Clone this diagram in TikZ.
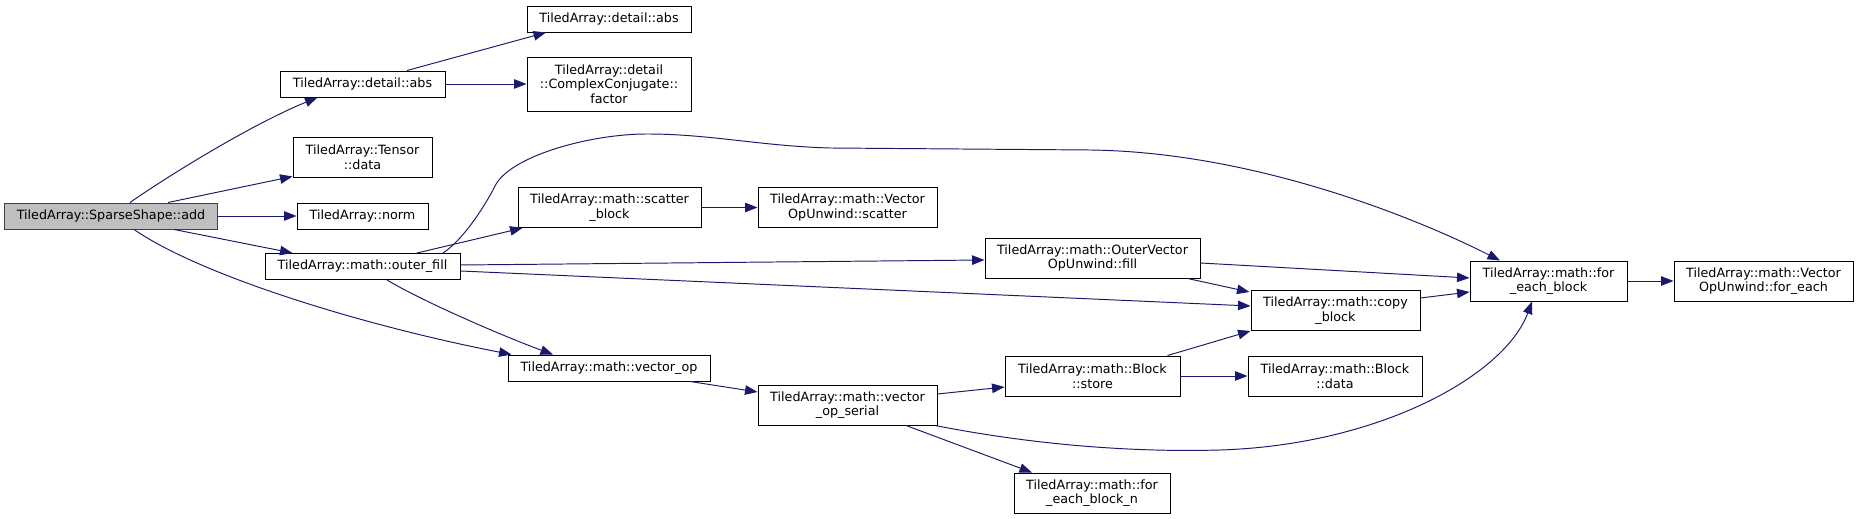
\documentclass[tikz,border=0pt]{standalone}
\usepackage{fontspec}
\setmainfont{DejaVu Sans}
\usetikzlibrary{arrows.meta, calc}
\definecolor{cEdge}{HTML}{191970}
\definecolor{cRoot}{HTML}{BFBFBF}
\definecolor{cFrame}{HTML}{404040}
\tikzset{
  fnbox/.style={
    draw=black, fill=white, line width=0.55pt,
    inner sep=0pt, align=center,
    font=\fontsize{7.25}{8.3}\selectfont,
  },
  rootbox/.style={fnbox, draw=cFrame, fill=cRoot},
  bw/.style={minimum width=#1*0.02cm},
  bh/.style={minimum height=#1*0.02cm},
  calls/.style={draw=cEdge, line width=0.55pt,
    -{Triangle[length=0.25cm, width=0.19cm]}},
}

\begin{document}
\begin{tikzpicture}[x=0.02cm, y=-0.02cm]
  \useasboundingbox (0,0) rectangle (1859,519);

  \node[rootbox, bw=213, bh=26] (add) at (111,216) {TiledArray::SparseShape::add};

  \node[fnbox, bw=165, bh=26] (abs1) at (362.5,84) {TiledArray::detail::abs};
  \node[fnbox, bw=139, bh=40] (tdata) at (362.5,157) {TiledArray::Tensor\\::data};
  \node[fnbox, bw=131, bh=26] (norm) at (362.5,216) {TiledArray::norm};
  \node[fnbox, bw=195, bh=26] (ofill) at (362.5,266.5) {TiledArray::math::outer\_fill};

  \node[fnbox, bw=164, bh=26] (abs2) at (609,19) {TiledArray::detail::abs};
  \node[fnbox, bw=164, bh=54] (factor) at (609,84) {TiledArray::detail\\::ComplexConjugate::\\factor};
  \node[fnbox, bw=183, bh=40] (scatb) at (609.5,207.5) {TiledArray::math::scatter\\\_block};
  \node[fnbox, bw=202, bh=26] (vop) at (609,368) {TiledArray::math::vector\_op};

  \node[fnbox, bw=179, bh=40] (vscat) at (847.5,207.5) {TiledArray::math::Vector\\OpUnwind::scatter};
  \node[fnbox, bw=179, bh=40] (vopser) at (847.5,405) {TiledArray::math::vector\\\_op\_serial};

  \node[fnbox, bw=215, bh=40] (oufill) at (1092.5,258) {TiledArray::math::OuterVector\\OpUnwind::fill};
  \node[fnbox, bw=175, bh=40] (store) at (1092.5,376) {TiledArray::math::Block\\::store};
  \node[fnbox, bw=156, bh=40] (febn) at (1092,493) {TiledArray::math::for\\\_each\_block\_n};

  \node[fnbox, bw=169, bh=40] (copy) at (1335.5,310.5) {TiledArray::math::copy\\\_block};
  \node[fnbox, bw=174, bh=40] (bdata) at (1335,376) {TiledArray::math::Block\\::data};

  \node[fnbox, bw=157, bh=40] (feb) at (1548.5,281) {TiledArray::math::for\\\_each\_block};
  \node[fnbox, bw=179, bh=40] (foreach) at (1763.5,281) {TiledArray::math::Vector\\OpUnwind::for\_each};

  % calls from add
  \draw[calls] ($(add.north)+(19,0)$) .. controls (165,178) and (250,125) .. ($(abs1.south)+(-45,0)$);
  \draw[calls] ($(add.north)+(57,0)$) -- ($(tdata.south west)+(0,-1)$);
  \draw[calls] (add.east) -- (norm.west);
  \draw[calls] ($(add.south)+(63,0)$) -- ($(ofill.north)+(-70,0)$);
  \draw[calls] ($(add.south)+(23,0)$) .. controls (200,275) and (360,325) .. ($(vop.north west)+(4,0)$);

  \draw[calls] ($(abs1.north)+(44.5,0)$) -- ($(abs2.south)+(-63,0)$);
  \draw[calls] (abs1.east) -- (factor.west);

  % calls from outer_fill
  \draw[calls] ($(ofill.north)+(80.5,0)$) .. controls (463,240) and (485,206) .. (495,186)
    .. controls (510,156) and (590,134) .. (647,134)
    .. controls (710,134) and (760,146) .. (830,148) -- (1090,150)
    .. controls (1250,152) and (1410,215) .. ($(feb.north)+(-48.5,0)$);
  \draw[calls] ($(ofill.north)+(54.5,0)$) -- ($(scatb.south west)+(5,0)$);
  \draw[calls] ($(ofill.east)+(0,-1.5)$) -- ($(oufill.west)+(0,2)$);
  \draw[calls] ($(ofill.east)+(0,4.5)$) -- ($(copy.west)+(0,-4.5)$);
  \draw[calls] ($(ofill.south)+(24.5,0)$) .. controls (420,300) and (500,335) .. ($(vop.north)+(-56,0)$);

  \draw[calls] (scatb.east) -- (vscat.west);

  \draw[calls] ($(oufill.east)+(0,5)$) -- ($(feb.west)+(0,-3)$);
  \draw[calls] ($(oufill.south east)+(-13,0)$) -- ($(copy.north west)+(-1,2)$);
  \draw[calls] ($(copy.east)+(0,-12.5)$) -- ($(feb.west)+(0,11)$);
  \draw[calls] (feb.east) -- (foreach.west);

  % calls from vector_op
  \draw[calls] ($(vop.south)+(81,0)$) -- ($(vopser.west)+(0,-13)$);
  \draw[calls] ($(vopser.east)+(0,-11)$) -- ($(store.west)+(0,11)$);
  \draw[calls] ($(vopser.south)+(87.5,0)$) .. controls (1050,448) and (1150,452) .. (1220,450)
    .. controls (1380,445) and (1505,375) .. ($(feb.south)+(-16.5,0)$);
  \draw[calls] ($(vopser.south)+(58.5,0)$) -- ($(febn.north)+(-60,0)$);
  \draw[calls] ($(store.north)+(75,0)$) -- (copy.south west);
  \draw[calls] (store.east) -- (bdata.west);

\end{tikzpicture}
\end{document}
